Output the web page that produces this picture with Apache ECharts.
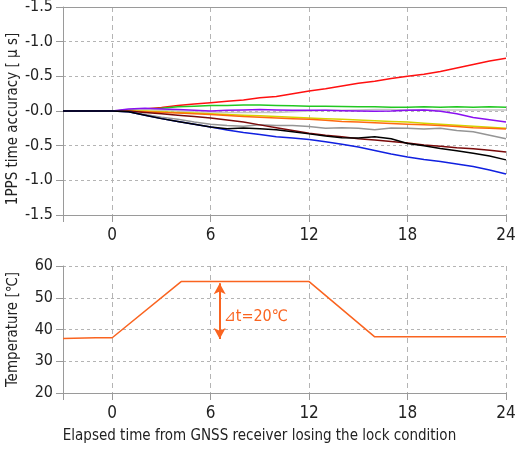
<!DOCTYPE html>
<html><head><meta charset="utf-8">
<script src="https://cdn.jsdelivr.net/npm/echarts@6/dist/echarts.min.js"></script>
<style>html,body{margin:0;padding:0;background:#fff}#c{width:520px;height:456px}</style>
</head><body><div id="c"></div>
<script>
const hours = [-3,-2,-1,0,1,2,3,4,5,6,7,8,9,10,11,12,13,14,15,16,17,18,19,20,21,22,23,24];
const red    = [0,0,0,0,0.01,0.03,0.05,0.08,0.10,0.12,0.14,0.16,0.19,0.21,0.25,0.29,0.32,0.36,0.40,0.43,0.47,0.50,0.53,0.57,0.62,0.67,0.72,0.76];
const green  = [0,0,0,0,0.01,0.03,0.04,0.06,0.07,0.08,0.08,0.085,0.085,0.08,0.075,0.07,0.07,0.065,0.06,0.06,0.055,0.055,0.06,0.055,0.06,0.055,0.06,0.055];
const lightGray = [0,0,0,0,0.01,0.02,0.01,0.0,-0.01,-0.015,-0.02,-0.02,-0.02,-0.02,-0.01,0.0,0.01,0.01,0.015,0.02,0.02,0.015,0.015,0.015,0.015,0.015,0.015,0.015];
const purple = [0,0,0,0,0.03,0.04,0.03,0.02,0.01,0.0,0.01,0.015,0.02,0.015,0.01,0.01,0.01,0.005,0.0,-0.005,0.0,0.01,0.015,-0.005,-0.04,-0.095,-0.125,-0.16];
const yellow = [0,0,0,0,0.0,0.0,-0.01,-0.02,-0.03,-0.04,-0.05,-0.06,-0.07,-0.08,-0.09,-0.10,-0.11,-0.12,-0.13,-0.14,-0.15,-0.16,-0.175,-0.19,-0.205,-0.22,-0.235,-0.25];
const orange = [0,0,0,0,-0.005,-0.01,-0.02,-0.03,-0.04,-0.05,-0.065,-0.08,-0.09,-0.10,-0.11,-0.12,-0.135,-0.15,-0.16,-0.17,-0.18,-0.19,-0.20,-0.21,-0.225,-0.24,-0.25,-0.26];
const gray   = [0,0,0,0,-0.01,-0.05,-0.09,-0.12,-0.16,-0.19,-0.21,-0.22,-0.20,-0.21,-0.21,-0.225,-0.25,-0.24,-0.25,-0.27,-0.245,-0.25,-0.26,-0.25,-0.28,-0.30,-0.35,-0.40];
const maroon = [0,0,0,0,0.0,-0.02,-0.04,-0.06,-0.08,-0.10,-0.13,-0.16,-0.20,-0.24,-0.28,-0.32,-0.35,-0.37,-0.40,-0.42,-0.44,-0.46,-0.49,-0.51,-0.53,-0.545,-0.565,-0.59];
const blue   = [0,0,0,0,-0.01,-0.06,-0.11,-0.15,-0.19,-0.23,-0.275,-0.31,-0.34,-0.37,-0.39,-0.41,-0.445,-0.48,-0.52,-0.57,-0.62,-0.665,-0.70,-0.73,-0.765,-0.80,-0.85,-0.91];
const black  = [0,0,0,0,-0.01,-0.06,-0.11,-0.15,-0.19,-0.23,-0.255,-0.245,-0.255,-0.27,-0.30,-0.33,-0.36,-0.385,-0.39,-0.37,-0.40,-0.47,-0.50,-0.54,-0.575,-0.61,-0.65,-0.705];
const tempHours = [-3,-1,0,4.2,12,16,24];
const temps     = [37.2,37.4,37.4,55.1,55.1,37.7,37.7];
const xTicks = [-3,0,6,12,18,24];
const xLabels = [0,6,12,18,24];
const arrowHour = 6.55, arrowTop = 54.6, arrowBottom = 37.0;
const deltaLabel = '⊿t=20℃';

const FONT = '"Liberation Sans Narrow","DejaVu Sans Condensed","Noto Sans",sans-serif';
const axisGray = '#9a9a9a';
const gridGray = '#b4b4b4';
const pair = arr => hours.map((h,i)=>[h,arr[i]]);

function xAxis(gridIndex){
  return {
    type:'value', gridIndex, min:-3, max:24,
    axisLine:{show:true,onZero:false,lineStyle:{color:axisGray,width:1}},
    axisTick:{show:true,length:7,inside:false,customValues:xTicks,lineStyle:{color:axisGray}},
    axisLabel:{show:true,customValues:xLabels,margin:12,color:'#222',fontSize:17,fontFamily:FONT},
    splitLine:{show:true,lineStyle:{color:gridGray,type:[5,4],width:1}}
  };
}
function yAxis(gridIndex,min,max,interval,name,fmt,pad,gap){
  return {type:'value',gridIndex,min,max,interval,
     name,nameLocation:'middle',nameGap:gap,nameMoveOverlap:false,
     nameTextStyle:{color:'#222',fontSize:15,fontFamily:FONT,padding:pad},
     axisLine:{show:true,onZero:false,lineStyle:{color:axisGray}},
     axisTick:{show:true,length:7,lineStyle:{color:axisGray}},
     axisLabel:{margin:10,color:'#222',fontSize:16,fontFamily:FONT,formatter:fmt},
     splitLine:{show:true,lineStyle:{color:gridGray,type:[3,3]}}};
}
const seriesDefs = [
  ['red',red,'#ff1010'],['green',green,'#22c822'],['lightGray',lightGray,'#c4c4c4'],
  ['purple',purple,'#8a10f0'],['yellow',yellow,'#d4d400'],['orange',orange,'#ff6a10'],
  ['gray',gray,'#959595'],['maroon',maroon,'#7a0a0a'],['blue',blue,'#1020e0'],['black',black,'#000000']
];
const chart = echarts.init(document.getElementById('c'));
const topX = xAxis(0);
const botX = xAxis(1);
botX.name = 'Elapsed time from GNSS receiver losing the lock condition';
botX.nameLocation = 'middle';
botX.nameGap = 36;
botX.nameMoveOverlap = false;
botX.nameTextStyle = {color:'#222',fontSize:15,fontFamily:FONT,padding:[0,50,0,0]};
chart.setOption({
  animation:false,
  grid:[{left:63,right:14,top:7,height:208,outerBoundsMode:'none',containLabel:false},
        {left:63,right:14,top:266,height:127,outerBoundsMode:'none',containLabel:false}],
  xAxis:[topX,botX,
    {type:'value',gridIndex:0,position:'top',min:-3,max:24,axisLine:{show:true,onZero:false,lineStyle:{color:axisGray}},axisTick:{show:false},axisLabel:{show:false},splitLine:{show:false}}],
  yAxis:[
    yAxis(0,-1.5,1.5,0.5,'1PPS time accuracy [ μ s]',v=>'-'+Math.abs(v).toFixed(1),[0,16,0,0],42),
    yAxis(1,20,60,10,'Temperature [℃]',v=>String(v),[0,0,0,0],42)
  ],
  series: seriesDefs.map(([n,arr,c])=>({
    name:n,type:'line',xAxisIndex:0,yAxisIndex:0,data:pair(arr),showSymbol:false,
    lineStyle:{color:c,width:1.5},itemStyle:{color:c},z:3
  })).concat([{
    name:'temperature',type:'line',xAxisIndex:1,yAxisIndex:1,
    data:tempHours.map((h,i)=>[h,temps[i]]),showSymbol:false,
    lineStyle:{color:'#fa6420',width:1.5},itemStyle:{color:'#fa6420'},
    markLine:{silent:true,symbol:['arrow','arrow'],symbolSize:[9,11],
      lineStyle:{color:'#fa6420',width:2,type:'solid'},label:{show:false},
      data:[[{coord:[arrowHour,arrowTop]},{coord:[arrowHour,arrowBottom]}]]},
    markPoint:{silent:true,symbol:'circle',symbolSize:0,
      label:{show:true,position:'right',distance:4,formatter:deltaLabel,color:'#fa6420',fontSize:16,fontFamily:FONT},
      data:[{coord:[arrowHour,44]}]}
  }])
});
</script></body></html>
